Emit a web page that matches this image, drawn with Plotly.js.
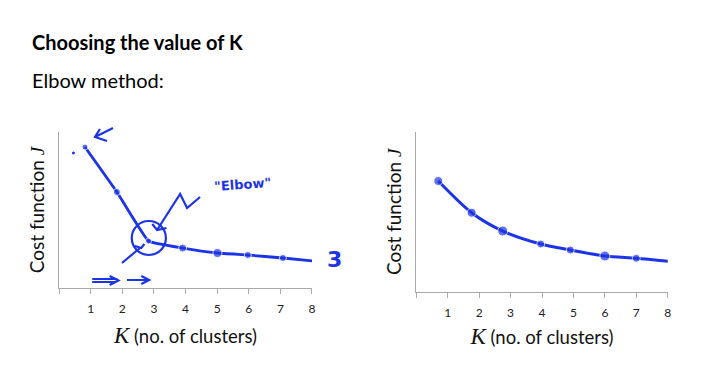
<!DOCTYPE html>
<html>
<head>
<meta charset="utf-8">
<script src="https://cdn.plot.ly/plotly-3.0.1.min.js"></script>
<style>html,body{margin:0;padding:0;background:#fff;}#chart{width:712px;height:390px;}</style>
</head>
<body>
<div id="chart"></div>
<script>
// Data (K value, cost J in arbitrary units)
const kElbow = [0.82, 1.83, 2.83, 3.91, 5.01, 5.97, 7.08, 8.05];
const costElbow = [141, 96, 47, 40, 35, 33, 30, 27];
const kSmooth = [0.70, 1.76, 2.75, 3.96, 4.90, 6.00, 7.00, 8.17];
const costSmooth = [110.7, 79, 60.7, 47.7, 41.7, 35.7, 33.4, 30];
const tickVals = [0, 1, 2, 3, 4, 5, 6, 7, 8];
const tickText = ['', '1', '2', '3', '4', '5', '6', '7', '8'];

const pen = 'rgb(28,52,232)';
const FONT = 'Lato, "Open Sans", "Liberation Sans", sans-serif';

const traces = [
  {x: kElbow, y: costElbow, xaxis: 'x', yaxis: 'y', mode: 'lines+markers',
   line: {color: pen, width: 2.8, shape: 'spline', smoothing: 0.3},
   marker: {color: pen, size: [6,7,6,8,9,7,7,11]}, cliponaxis: false, hoverinfo: 'skip'},
  {x: kSmooth, y: costSmooth, xaxis: 'x2', yaxis: 'y2', mode: 'lines+markers',
   line: {color: pen, width: 3, shape: 'spline', smoothing: 0.8},
   marker: {color: pen, size: [9,9,10,8,8,10,8,8]}, cliponaxis: false, hoverinfo: 'skip'}
];

const xAxisBase = {
  range: [0, 8], tickmode: 'array', tickvals: tickVals, ticktext: tickText,
  ticks: 'outside', ticklen: 5, tickcolor: '#aaa', tickwidth: 1, ticklabelstandoff: 5,
  showline: true, linecolor: '#aaa', linewidth: 1, showgrid: false, zeroline: false,
  tickfont: {family: FONT, size: 12, color: '#222'}
};
const xTitle = '<span style="font-family:\'Liberation Serif\',serif;font-style:italic;font-size:23px">K</span> (no. of clusters)';
const yAxisBase = {
  showline: true, linecolor: '#aaa', linewidth: 1, showgrid: false, zeroline: false,
  showticklabels: false, ticks: '',
  title: {text: 'Cost function <span style="font-family:\'Liberation Serif\',serif;font-style:italic">J</span>',
          font: {family: FONT, size: 19, color: '#111'}, standoff: 8}
};

const P = (px, py) => (px / 712).toFixed(4) + ' ' + (1 - py / 390).toFixed(4);

const layout = {
  width: 712, height: 390, margin: {l: 0, r: 0, t: 0, b: 0},
  paper_bgcolor: '#fff', plot_bgcolor: '#fff', showlegend: false,
  xaxis: Object.assign({}, xAxisBase, {domain: [0.0829, 0.4382], anchor: 'y',
    title: {text: xTitle, font: {family: FONT, size: 18.5, color: '#111'}, standoff: 14}}),
  yaxis: Object.assign({}, yAxisBase, {domain: [0.2615, 0.6615], range: [0, 156], anchor: 'x'}),
  xaxis2: Object.assign({}, xAxisBase, {domain: [0.5847, 0.9378], anchor: 'y2',
    title: {text: xTitle, font: {family: FONT, size: 18.5, color: '#111'}, standoff: 11}}),
  yaxis2: Object.assign({}, yAxisBase, {domain: [0.252, 0.6615], range: [0, 159.7], anchor: 'x2'}),
  annotations: [
    {xref: 'paper', yref: 'paper', x: 30/712, y: 1 - 42/390, xanchor: 'left', yanchor: 'middle',
     text: '<b>Choosing the value of K</b>', showarrow: false, font: {family: FONT, size: 20, color: '#000'}},
    {xref: 'paper', yref: 'paper', x: 30/712, y: 1 - 80/390, xanchor: 'left', yanchor: 'middle',
     text: 'Elbow method:', showarrow: false, font: {family: FONT, size: 20, color: '#000'}},
    {xref: 'x', yref: 'y', x: 5.79, y: 104, text: '<b>"Elbow"</b>', showarrow: false,
     font: {family: '"DejaVu Sans", sans-serif', size: 13, color: pen}, textangle: -4},
    {xref: 'paper', yref: 'paper', x: 334/712, y: 1 - 259/390, text: '<b>3</b>', showarrow: false,
     font: {family: 'DejaVu Sans, sans-serif', size: 22, color: pen}}
  ],
  shapes: [
    // circle around the elbow
    {type: 'circle', xref: 'x', yref: 'y', x0: 2.3, x1: 3.38, y0: 33, y1: 67, line: {color: pen, width: 2.2}},
    // wiggly pointer to the elbow
    {type: 'path', xref: 'x', yref: 'y', path: 'M 4.46 91 L 4.05 80 L 3.83 94 L 3.1 58', line: {color: pen, width: 2.2}},
    {type: 'path', xref: 'x', yref: 'y', path: 'M 2.95 64 L 3.1 58 L 3.4 60', line: {color: pen, width: 2.2}},
    // small pointer below the circle
    {type: 'path', xref: 'x', yref: 'y', path: 'M 1.99 25 L 2.56 40 M 2.4 42 L 2.6 40 L 2.7 44', line: {color: pen, width: 2.2}},
    // top-left arrow (paper coordinates so it is not clipped)
    {type: 'path', xref: 'paper', yref: 'paper',
     path: 'M ' + P(113, 128) + ' L ' + P(95, 137) + ' M ' + P(100, 129) + ' L ' + P(95, 137) + ' L ' + P(107, 141),
     line: {color: pen, width: 2.2}},
    // bottom arrows
    {type: 'path', xref: 'x', yref: 'y', path: 'M 1.05 9 L 1.85 9 M 1.05 6 L 1.8 6 M 1.6 12 L 1.88 7.5 L 1.6 3', line: {color: pen, width: 2.2}},
    {type: 'path', xref: 'x', yref: 'y', path: 'M 2.15 8 L 2.85 8 M 2.6 12 L 2.85 8 L 2.6 4', line: {color: pen, width: 2.2}},
    // stray dot
    {type: 'circle', xref: 'x', yref: 'y', x0: 0.42, x1: 0.49, y0: 134, y1: 136, fillcolor: pen, line: {color: pen, width: 1}}
  ]
};

Plotly.newPlot('chart', traces, layout, {staticPlot: true, displayModeBar: false});
</script>
</body>
</html>
